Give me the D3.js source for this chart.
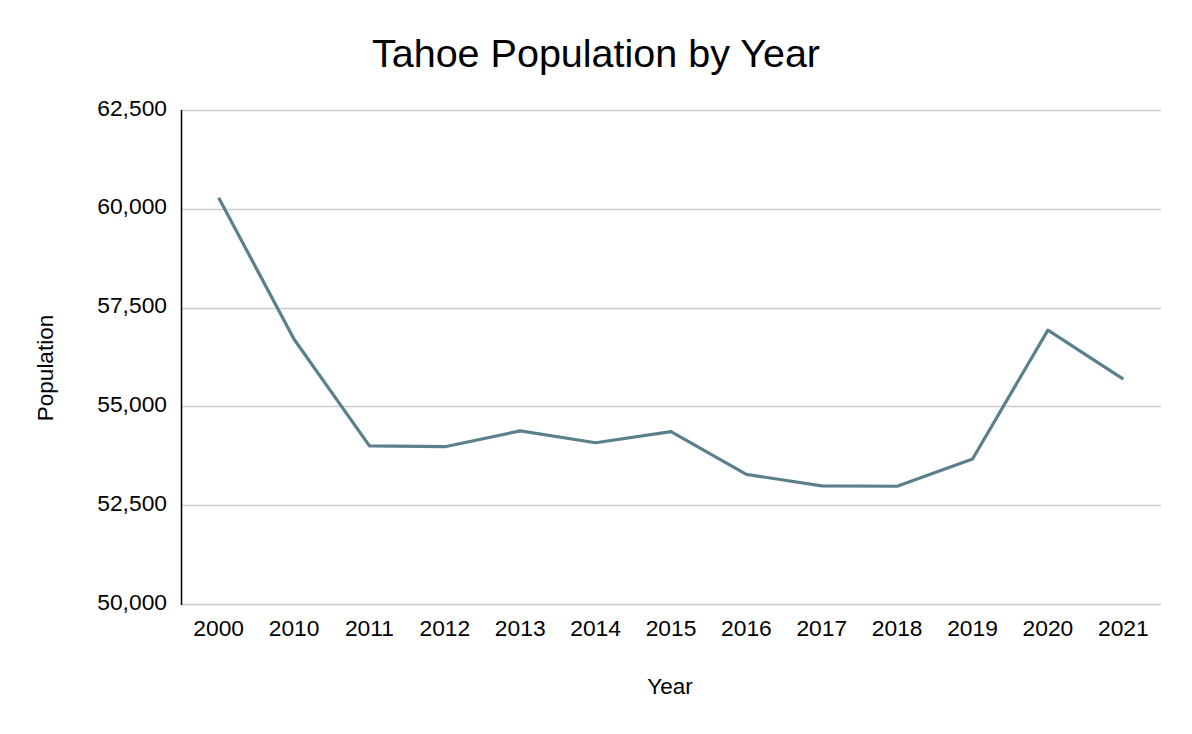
<!DOCTYPE html>
<html>
<head>
<meta charset="utf-8">
<script src="https://cdn.jsdelivr.net/npm/d3@7"></script>
<style>
  html, body { margin: 0; padding: 0; background: #fff; }
  svg { display: block; font-family: "Liberation Sans", Arial, sans-serif; }
</style>
</head>
<body>
<svg id="chart" width="1192" height="734"></svg>
<script>
const years = ["2000","2010","2011","2012","2013","2014","2015","2016","2017","2018","2019","2020","2021"];
const population = [60280, 56700, 54000, 53980, 54380, 54080, 54360, 53280, 52990, 52980, 53670, 56930, 55690];
const yTicks = [50000, 52500, 55000, 57500, 60000, 62500];
const chartTitle = "Tahoe Population by Year";
const xTitle = "Year";
const yTitle = "Population";

const W = 1192, H = 734;
const m = { left: 181, right: 1161, top: 110, bottom: 604 };
const svg = d3.select("#chart");

const x = d3.scaleBand().domain(years).range([m.left, m.right]);
const y = d3.scaleLinear().domain([50000, 62500]).range([m.bottom, m.top]);
const fmt = d3.format(",");

// gridlines
svg.append("g").selectAll("line").data(yTicks).join("line")
  .attr("x1", m.left).attr("x2", m.right)
  .attr("y1", d => Math.round(y(d)) + 0.5).attr("y2", d => Math.round(y(d)) + 0.5)
  .attr("stroke", "#cccccc").attr("stroke-width", 1.3);

// y axis labels
const yAxis = svg.append("g").attr("transform", `translate(${m.left},0)`)
  .call(d3.axisLeft(y).tickValues(yTicks).tickFormat(fmt).tickSize(0).tickPadding(14));
yAxis.select(".domain").remove();
yAxis.selectAll("text").attr("font-size", 22.8).attr("fill", "#000")
  .attr("font-family", "'Liberation Sans', Arial, sans-serif").attr("dy", "0.22em");

// left axis line
svg.append("line").attr("x1", m.left + 0.5).attr("x2", m.left + 0.5)
  .attr("y1", m.top).attr("y2", m.bottom + 1)
  .attr("stroke", "#000").attr("stroke-width", 1.5);

// x axis labels
const xAxis = svg.append("g").attr("transform", `translate(0,${m.bottom})`)
  .call(d3.axisBottom(x).tickSize(0).tickPadding(16));
xAxis.select(".domain").remove();
xAxis.selectAll("text").attr("font-size", 22.8).attr("fill", "#000")
  .attr("font-family", "'Liberation Sans', Arial, sans-serif");

// line
const line = d3.line()
  .x((d, i) => x(years[i]) + x.bandwidth() / 2)
  .y(d => y(d));
svg.append("path").datum(population)
  .attr("d", line).attr("fill", "none")
  .attr("stroke", "#5b808c").attr("stroke-width", 3.2)
  .attr("stroke-linejoin", "round");

// titles
svg.append("text").attr("x", 596).attr("y", 66.5).attr("text-anchor", "middle")
  .attr("font-size", 39.5).attr("fill", "#000").text(chartTitle);
svg.append("text").attr("x", 670).attr("y", 694).attr("text-anchor", "middle")
  .attr("font-size", 22.5).attr("fill", "#000").text(xTitle);
svg.append("text").attr("transform", "translate(53,368) rotate(-90)").attr("text-anchor", "middle")
  .attr("font-size", 22.5).attr("fill", "#000").text(yTitle);
</script>
</body>
</html>
